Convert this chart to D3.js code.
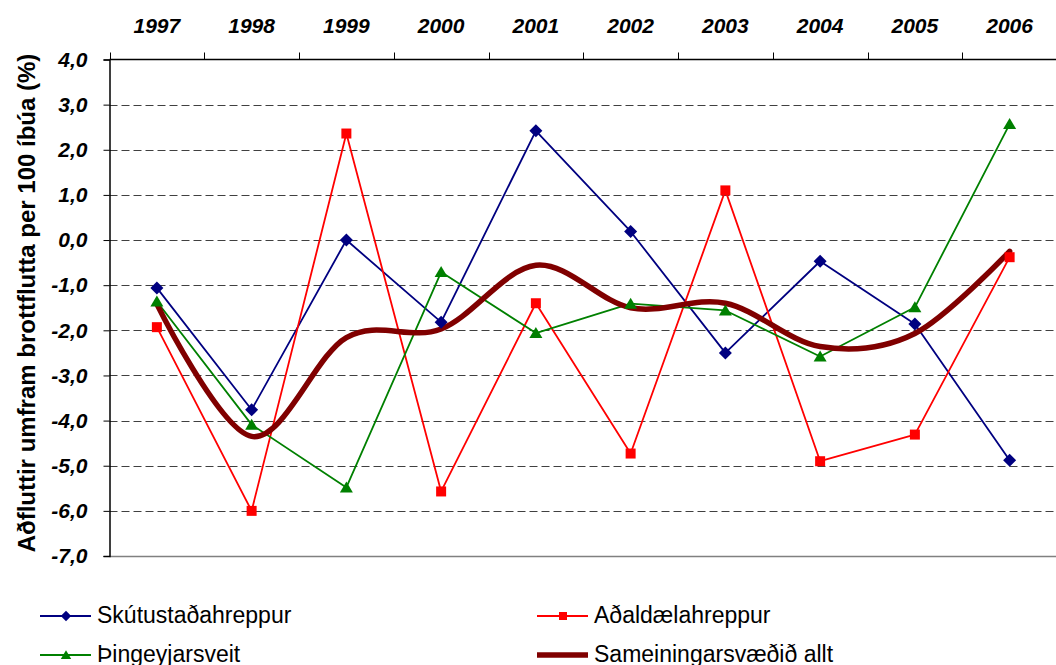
<!DOCTYPE html>
<html>
<head>
<meta charset="utf-8">
<script src="https://cdn.jsdelivr.net/npm/d3@7"></script>
<style>
  body { margin: 0; background: #fff; }
  svg { display: block; font-family: "Liberation Sans", Arial, sans-serif; }
</style>
</head>
<body>
<svg id="chart" width="1056" height="665"></svg>
<script>
// data
const years = ["1997", "1998", "1999", "2000", "2001", "2002", "2003", "2004", "2005", "2006"];
const skutustadahreppur = [-1.06, -3.76, 0.0, -1.82, 2.42, 0.19, -2.5, -0.47, -1.86, -4.88];
const adaldaelahreppur = [-1.93, -6.0, 2.36, -5.57, -1.4, -4.73, 1.1, -4.9, -4.31, -0.38];
const thingeyjarsveit = [-1.36, -4.09, -5.48, -0.71, -2.06, -1.41, -1.56, -2.58, -1.49, 2.57];
const sameiningarsvaedid = [-1.42, -4.35, -2.16, -1.97, -0.56, -1.5, -1.4, -2.36, -2.07, -0.25];
const yTicks = [4, 3, 2, 1, 0, -1, -2, -3, -4, -5, -6, -7];

const series = [
  { name: "Skútustaðahreppur", values: skutustadahreppur, color: "#000080", marker: "diamond", width: 1.8 },
  { name: "Aðaldælahreppur", values: adaldaelahreppur, color: "#FF0000", marker: "square", width: 1.8 },
  { name: "Þingeyjarsveit", values: thingeyjarsveit, color: "#008000", marker: "triangle", width: 1.8 },
  { name: "Sameiningarsvæðið allt", values: sameiningarsvaedid, color: "#800000", marker: null, width: 5.5, smooth: true }
];

const svg = d3.select("#chart");
const plotLeft = 109.5, plotRight = 1057, plotTop = 59.5, plotBottom = 556;

const x = d3.scaleBand().domain(years).range([plotLeft, plotRight]).padding(0);
const y = d3.scaleLinear().domain([-7, 4]).range([plotBottom, plotTop]);
const fmt = v => d3.format(".1f")(v).replace(".", ",").replace("−", "-");

// dashed gridlines
svg.append("g")
  .selectAll("line")
  .data(yTicks.filter(d => d > -7 && d < 4))
  .join("line")
  .attr("x1", plotLeft).attr("x2", plotRight)
  .attr("y1", d => Math.round(y(d)) + 0.5).attr("y2", d => Math.round(y(d)) + 0.5)
  .attr("stroke", "#404040")
  .attr("stroke-width", 1)
  .attr("stroke-dasharray", "8,4");

// bottom line at -7
svg.append("line")
  .attr("x1", plotLeft).attr("x2", plotRight)
  .attr("y1", Math.round(y(-7)) + 0.5).attr("y2", Math.round(y(-7)) + 0.5)
  .attr("stroke", "#808080").attr("stroke-width", 1.5);

// left axis
const yAxis = svg.append("g")
  .attr("transform", "translate(" + plotLeft + ",0)")
  .call(d3.axisLeft(y).tickValues(yTicks).tickSize(6).tickPadding(16).tickFormat(fmt));
yAxis.select(".domain").attr("stroke", "#000").attr("stroke-width", 1.5);
yAxis.selectAll(".tick line").attr("stroke", "#000");
yAxis.selectAll("text")
  .attr("font-size", 21).attr("font-weight", "bold").attr("font-style", "italic")
  .attr("font-family", "Liberation Sans, Arial, sans-serif").attr("fill", "#000");

// top category axis with ticks between categories
const topAxis = svg.append("g").attr("transform", "translate(0," + plotTop + ")");
topAxis.append("line")
  .attr("x1", plotLeft).attr("x2", plotRight).attr("y1", 0).attr("y2", 0)
  .attr("stroke", "#000").attr("stroke-width", 1.5);
topAxis.selectAll(".tk")
  .data(years)
  .join("line")
  .attr("class", "tk")
  .attr("x1", d => Math.round(x(d)) + 0.5).attr("x2", d => Math.round(x(d)) + 0.5)
  .attr("y1", 0).attr("y2", -7)
  .attr("stroke", "#000");
topAxis.selectAll(".lbl")
  .data(years)
  .join("text")
  .attr("class", "lbl")
  .attr("x", d => x(d) + x.bandwidth() / 2)
  .attr("y", -27)
  .attr("text-anchor", "middle")
  .attr("font-size", 21).attr("font-weight", "bold").attr("font-style", "italic")
  .text(d => d);

// y title
svg.append("text")
  .attr("transform", "translate(35,303) rotate(-90)")
  .attr("text-anchor", "middle")
  .attr("font-size", 24).attr("font-weight", "bold")
  .text("Aðfluttir umfram brottflutta per 100 íbúa (%)");

const cx = (d, i) => x(years[i]) + x.bandwidth() / 2;

// lines
series.forEach(s => {
  const line = d3.line()
    .x((d, i) => cx(d, i))
    .y(d => y(d))
    .curve(s.smooth ? d3.curveCardinal.tension(0) : d3.curveLinear);
  svg.append("path")
    .datum(s.values)
    .attr("d", line)
    .attr("fill", "none")
    .attr("stroke", s.color)
    .attr("stroke-width", s.width)
    .attr("stroke-linejoin", "round")
    .attr("stroke-linecap", "round");
});

function markerPath(type) {
  if (type === "diamond") return "M0,-6.5L6.5,0L0,6.5L-6.5,0Z";
  if (type === "square") return "M-5,-5H5V5H-5Z";
  if (type === "triangle") return "M0,-6L6.5,5H-6.5Z";
  return "";
}

// markers
series.filter(s => s.marker).forEach(s => {
  svg.append("g")
    .selectAll("path")
    .data(s.values)
    .join("path")
    .attr("transform", (d, i) => "translate(" + cx(d, i) + "," + y(d) + ")")
    .attr("d", markerPath(s.marker))
    .attr("fill", s.color);
});

// legend
const legendPos = [
  { lx: 40, ly: 616 }, { lx: 537, ly: 616 },
  { lx: 40, ly: 655 }, { lx: 537, ly: 655 }
];
series.forEach((s, i) => {
  const p = legendPos[i];
  const g = svg.append("g").attr("transform", "translate(" + p.lx + "," + p.ly + ")");
  g.append("line")
    .attr("x1", 0).attr("x2", 51).attr("y1", 0).attr("y2", 0)
    .attr("stroke", s.color).attr("stroke-width", s.smooth ? 5.5 : 2);
  if (s.marker) {
    g.append("path")
      .attr("transform", "translate(26,0) scale(0.8)")
      .attr("d", markerPath(s.marker))
      .attr("fill", s.color);
  }
  g.append("text")
    .attr("x", 57).attr("y", 6.5)
    .attr("font-size", 23)
    .attr("fill", "#000")
    .text(s.name);
});
</script>
</body>
</html>
